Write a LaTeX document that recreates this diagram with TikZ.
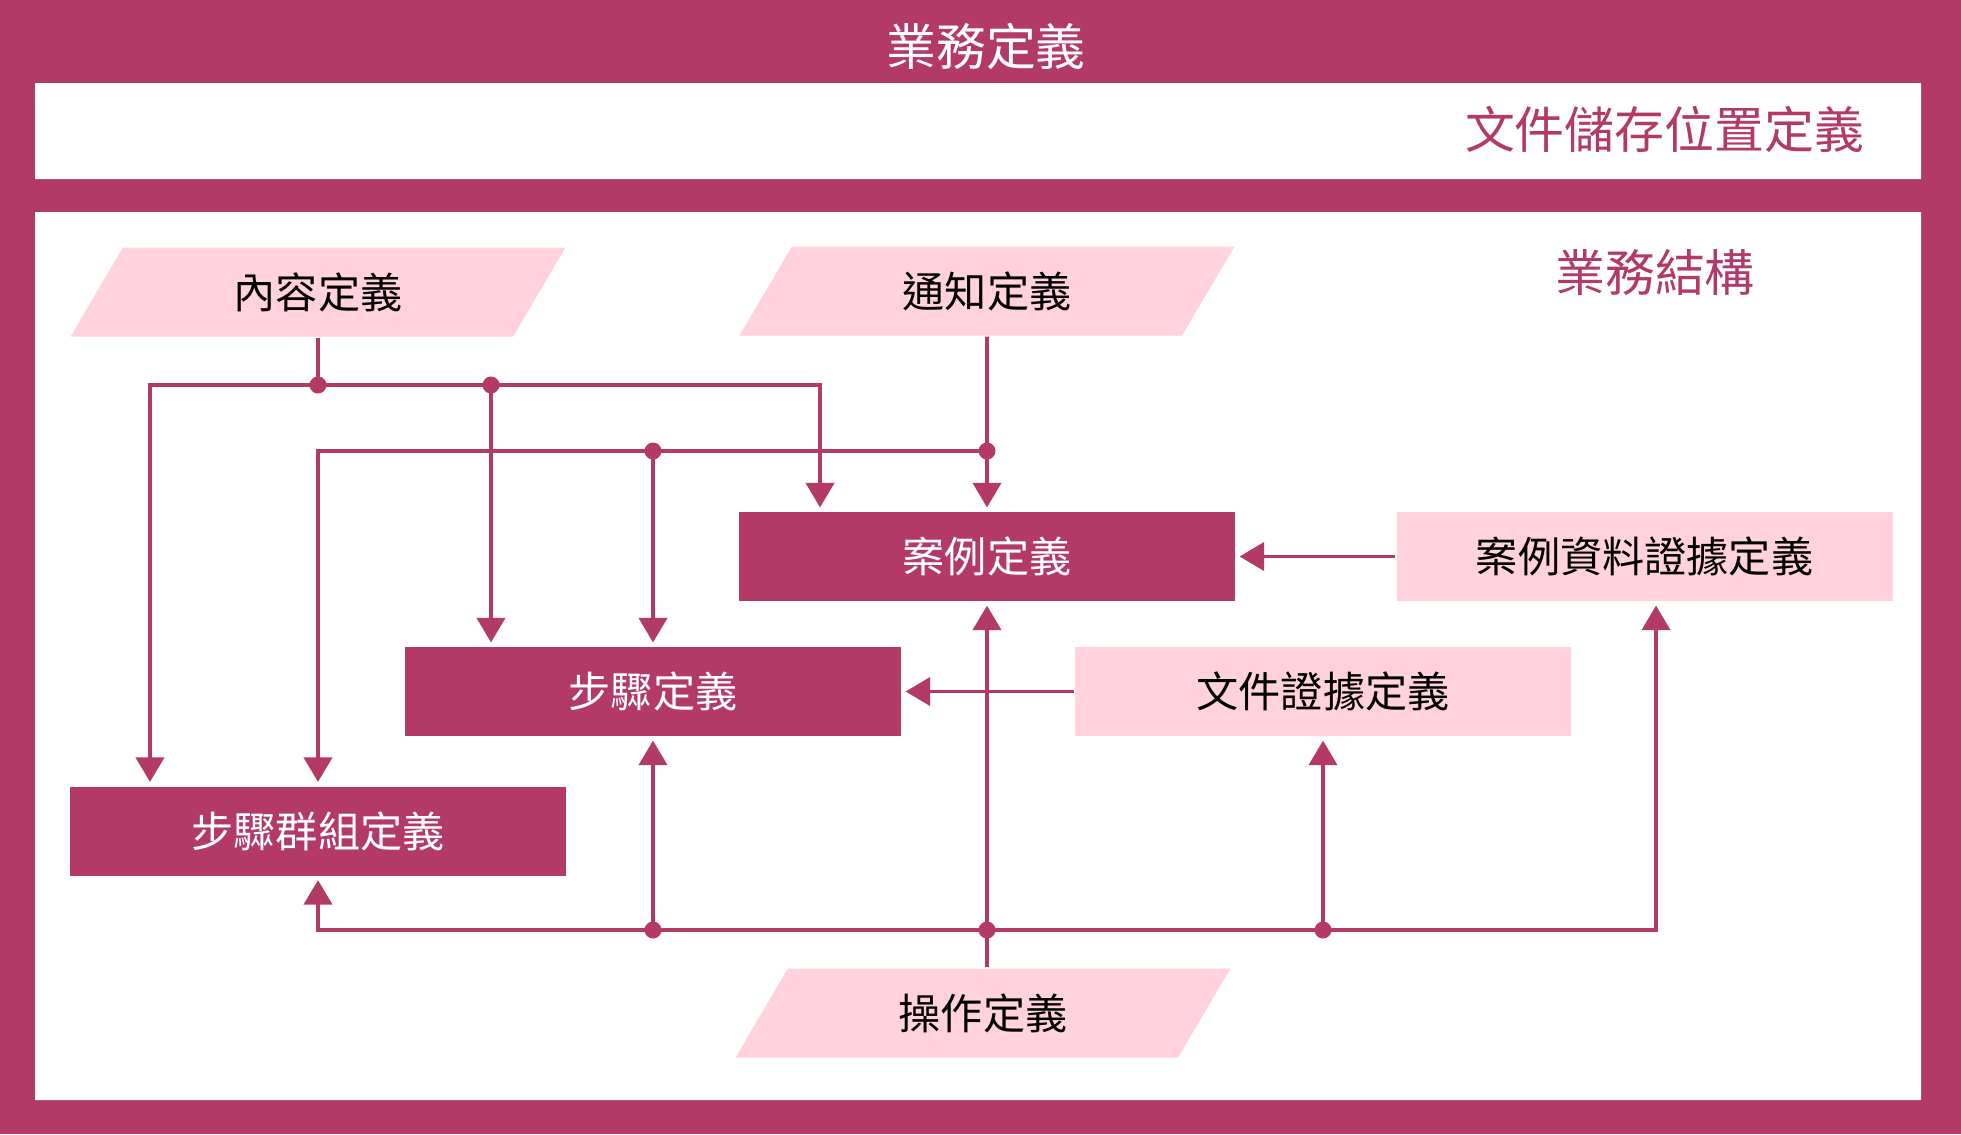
\documentclass[tikz,border=0pt]{standalone}
\usepackage{fontspec}
\newfontfamily\cjk{Noto Sans CJK TC}
\usetikzlibrary{arrows.meta,shapes.geometric}
\definecolor{rose}{RGB}{179,58,103}
\definecolor{blush}{RGB}{255,210,221}

\begin{document}
\begin{tikzpicture}[semithick,
  darkbox/.style={fill=rose,text=white,minimum width=4.96cm,minimum height=0.89cm,
    inner sep=0pt,font=\cjk\fontsize{12}{14}\selectfont},
  lightbox/.style={darkbox,fill=blush,text=black},
  para/.style={trapezium,trapezium left angle=60,trapezium right angle=120,
    trapezium stretches=true,fill=blush,minimum width=4.96cm,minimum height=0.89cm,
    inner sep=0pt,font=\cjk\fontsize{12}{14}\selectfont},
  head/.style={font=\cjk\fontsize{14.2}{16}\selectfont},
  link/.style={rose,line width=1.1pt},
  arr/.style={link,-{Triangle[length=7pt,width=8pt]},shorten >=1pt},
  junc/.style={circle,fill=rose,inner sep=0pt,minimum size=0.17cm}]
\fill[rose](0,0)rectangle(19.61,-11.34);
\fill[white](0.35,-0.83)rectangle(19.21,-1.79)(0.35,-2.12)rectangle(19.21,-11.00);
\node[head,text=white](title)at(9.86,-0.46){業務定義};
\node[head,text=rose,anchor=east](store)at(18.77,-1.29){文件儲存位置定義};
\node[head,text=rose](struct)at(16.55,-2.72){業務結構};
% sources
\node[para](cont)at(3.18,-2.92){內容定義};
\node[para](noti)at(9.87,-2.91){通知定義};
\node[para](oper)at(9.83,-10.13){操作定義};
% definitions
\node[darkbox](case)at(9.87,-5.565){案例定義};
\node[lightbox](cdata)at(16.445,-5.565){案例資料證據定義};
\node[darkbox](stepd)at(6.53,-6.915){步驟定義};
\node[lightbox](fdoc)at(13.23,-6.915){文件證據定義};
\node[darkbox](grp)at(3.18,-8.31){步驟群組定義};
\coordinate(ja)at(1.50,-3.85);\coordinate(jb)at(4.91,-3.85);\coordinate(jc)at(8.20,-3.85);
\coordinate(yb)at(0,-4.51);\coordinate(yc)at(0,-9.30);\coordinate(cx)at(16.56,0);
\coordinate(ot)at(oper.north-|case.south);
\draw[arr](cont.south)|-(ja)--(ja|-grp.north);
\draw[arr](cont.south)|-(jc)--(jc|-case.north);
\draw[arr](jb)--(jb|-stepd.north);
\draw[arr](noti.south)--(case.north);
\draw[arr](noti.south)|-(grp.north|-yb)--(grp.north);
\draw[arr](stepd.north|-yb)--(stepd.north);
\draw[arr](ot)--(case.south);
\draw[arr](ot)|-(grp.south|-yc)--(grp.south);
\draw[arr](ot)|-(cx|-yc)--(cx|-cdata.south);
\draw[arr](stepd.south|-yc)--(stepd.south);
\draw[arr](fdoc.south|-yc)--(fdoc.south);
\draw[arr](cdata)--(case);
\draw[arr](fdoc)--(stepd);
\foreach \p in {cont.south|-ja,jb,noti.south|-yb,stepd.north|-yb,stepd.south|-yc,ot|-yc,fdoc.south|-yc}
  \node[junc]at(\p){};
\end{tikzpicture}
\end{document}
